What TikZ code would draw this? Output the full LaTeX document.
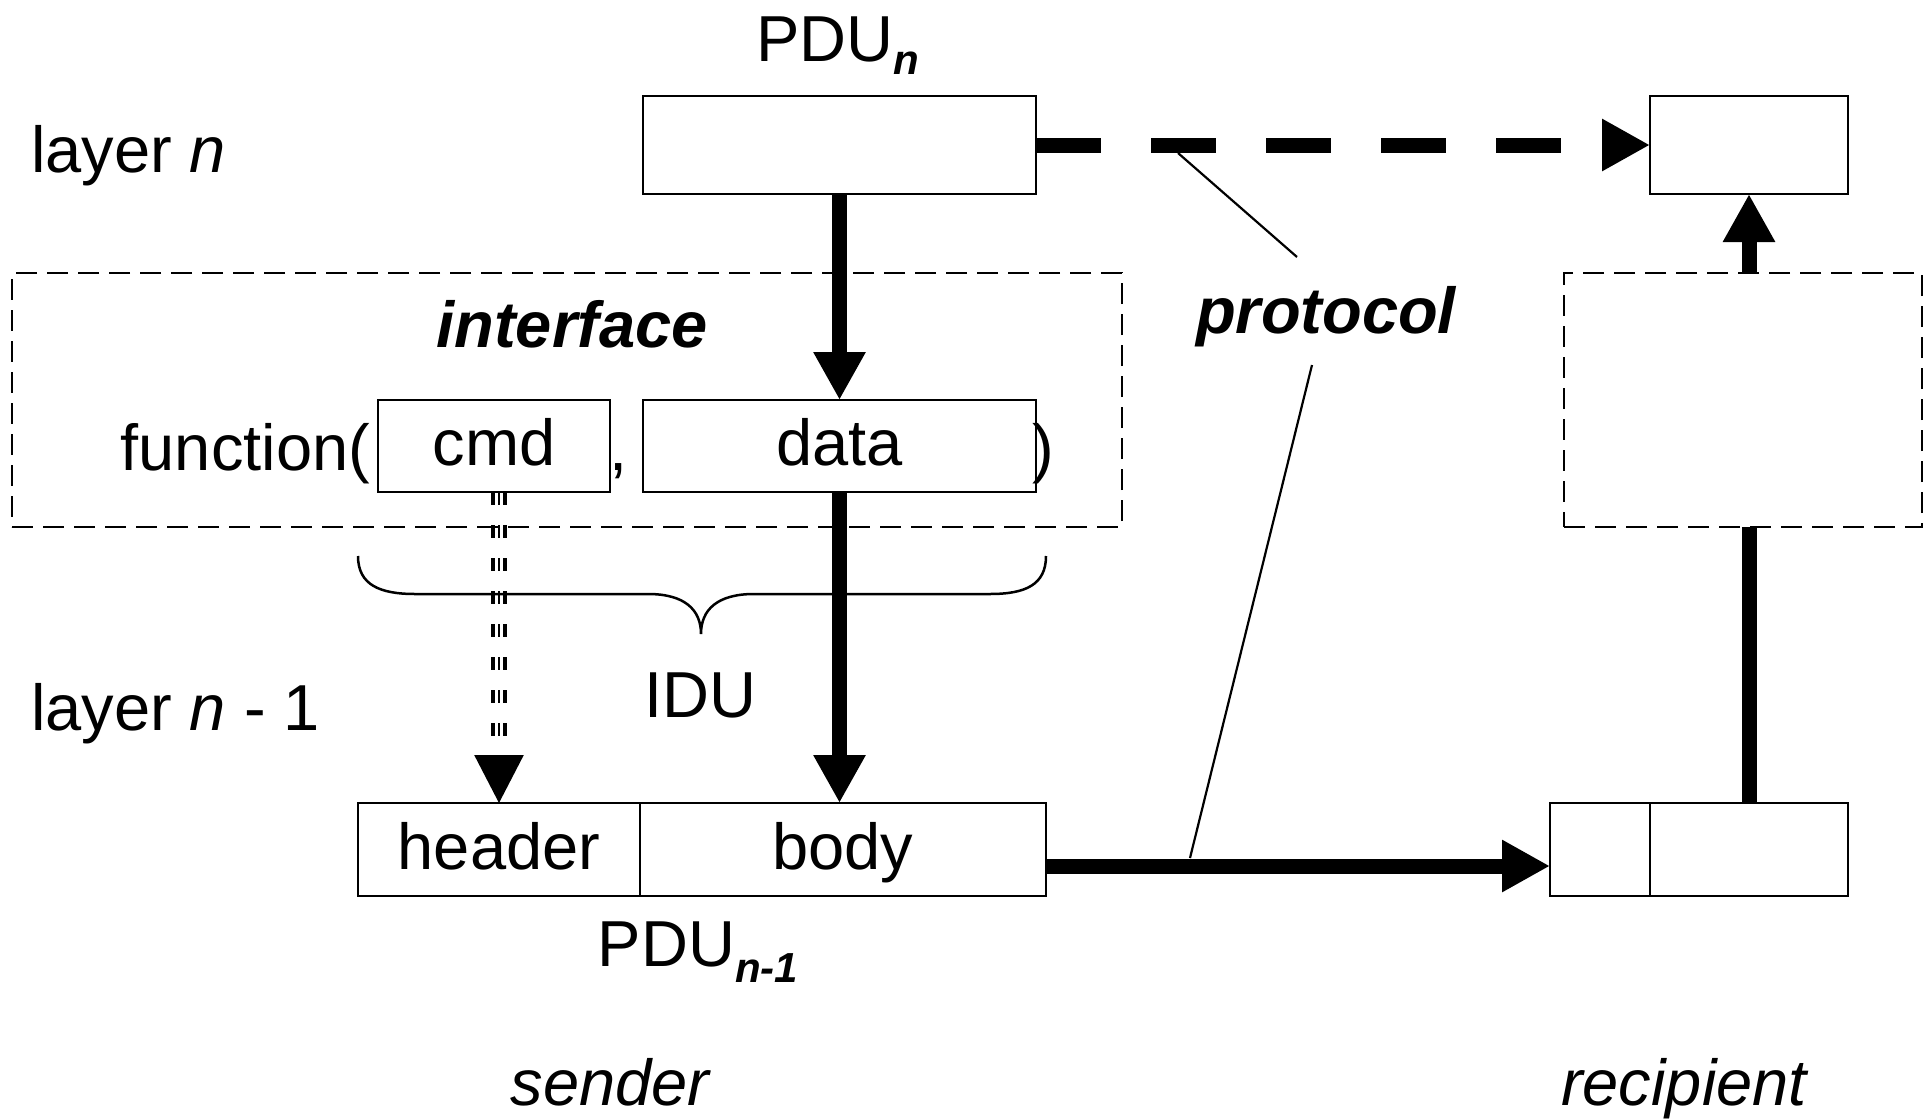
\documentclass[tikz,border=0pt]{standalone}
\usepackage{fontspec}
\setmainfont{Liberation Sans}
\usetikzlibrary{arrows.meta}
\begin{document}
\begin{tikzpicture}[x=1pt,y=-1pt,
  every node/.style={font=\fontsize{65}{78}\selectfont, inner sep=0pt, outer sep=0pt},
  box/.style={draw, line width=2.5pt, text height=47pt, text depth=8pt},
  dbox/.style={draw, line width=2.2pt, dash pattern=on 21pt off 10pt},
  thk/.style={line width=15pt},
  arr/.style={-{Triangle[length=48pt,width=49pt]}},
  leader/.style={line width=2.2pt},
  lbl/.style={anchor=base},
  cmdline/.style={dash pattern=on 13pt off 20pt},
]
\useasboundingbox (0,0) rectangle (1923,1119);
% boxes
\node[box, minimum width=393pt, minimum height=98pt] (pdun) at (839.5,145) {};
\node[box, minimum width=198pt, minimum height=98pt] (rtop) at (1749,145) {};
\node[dbox, minimum width=1110pt, minimum height=254pt] (iface) at (567,400) {};
\node[dbox, minimum width=358pt, minimum height=254pt] (rdash) at (1743,400) {};
\node[box, minimum width=232pt, minimum height=92pt] (cmd) at (494,446) {cmd};
\node[box, minimum width=393pt, minimum height=92pt] (data) at (839.5,446) {data};
\node[box, minimum width=282pt, minimum height=93pt] (hdr) at (499,849.5) {header};
\node[box, minimum width=406pt, minimum height=93pt] (body) at (843,849.5) {body};
\node[box, minimum width=100pt, minimum height=93pt] (rhdr) at (1600,849.5) {};
\node[box, minimum width=198pt, minimum height=93pt] (rbody) at (1749,849.5) {};
% labels
\node[lbl] (pdunlbl) at (838,61) {PDU\raisebox{-13pt}{\fontsize{42}{50}\selectfont\bfseries\itshape n}};
\node[anchor=base west] (layern) at (31,172) {layer \textit{n}};
\node[lbl] (iflbl) at (572,347) {\bfseries\itshape interface};
\node[anchor=base east] (fn) at (370,470) {function(};
\node[lbl] (comma) at (619,470) {,};
\node[lbl] (rpar) at (1043,470) {)};
\node[lbl] (idu) at (700,717) {IDU};
\node[anchor=base west] (layern1) at (31,730) {layer \textit{n} - 1};
\node[lbl] (pdu1lbl) at (698,966) {PDU\raisebox{-16pt}{\fontsize{42}{50}\selectfont\bfseries\itshape n-1}};
\node[lbl] (sender) at (610,1105) {\itshape sender};
\node[lbl] (recip) at (1684,1105) {\itshape recipient};
\node[lbl] (proto) at (1326,333) {\bfseries\itshape protocol};
% brace
\draw[line width=2.5pt] (358,556) .. controls (358,585) and (380,594) .. (415,594) -- (648,594)
  .. controls (685,594) and (701,610) .. (701,634)
  .. controls (701,610) and (717,594) .. (754,594) -- (990,594)
  .. controls (1025,594) and (1046,585) .. (1046,556);
% connectors
\draw[thk, dash pattern=on 65pt off 50pt, arr] (pdun.east) -- (rtop.west);
\draw[thk, arr] (pdun.south) -- (data.north);
\draw[thk, arr] (data.south) -- (data.south |- body.north);
\draw[thk, arr] ([yshift=-16.5pt]body.east) -- ([yshift=-16.5pt]rhdr.west);
\draw[thk] (rbody.north) -- (rbody.north |- rdash.south);
\draw[thk, arr] (rtop.south |- rdash.north) -- (rtop.south);
% cmd triple dashed connector
\draw[cmdline, line width=3.5pt] ([xshift=-6pt]cmd.south -| hdr.north) -- ([xshift=-6pt,yshift=47pt]hdr.north);
\draw[cmdline, line width=4pt] ([xshift=6pt]cmd.south -| hdr.north) -- ([xshift=6pt,yshift=47pt]hdr.north);
\draw[cmdline, line width=2.5pt, arr] (cmd.south -| hdr.north) -- (hdr.north);
% protocol leaders
\coordinate (pa) at (1178,153);
\coordinate (pb) at (1297,257);
\coordinate (pc) at (1312,365);
\coordinate (pd) at (1190,858);
\draw[leader] (pa) -- (pb);
\draw[leader] (pc) -- (pd);
\end{tikzpicture}
\end{document}
